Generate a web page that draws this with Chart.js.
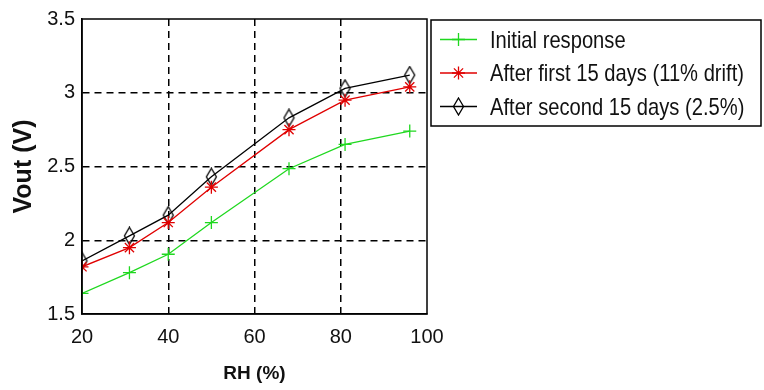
<!DOCTYPE html>
<html>
<head>
<meta charset="utf-8">
<script src="https://cdn.jsdelivr.net/npm/chart.js@4/dist/chart.umd.min.js"></script>
<style>
html,body{margin:0;padding:0;background:#fff;}
#wrap{width:764px;height:390px;position:relative;}
</style>
</head>
<body>
<div id="wrap"><canvas id="c" width="764" height="390"></canvas></div>
<script>
// ---- data ----
const rh = [20, 31, 40, 50, 68, 81, 96];
const initialResponse = [1.64, 1.78, 1.905, 2.12, 2.485, 2.65, 2.74];
const afterFirst15 = [1.82, 1.95, 2.12, 2.36, 2.75, 2.95, 3.04];
const afterSecond15 = [1.86, 2.03, 2.17, 2.43, 2.83, 3.03, 3.12];
const seriesNames = ['Initial response', 'After first 15 days (11% drift)', 'After second 15 days (2.5%)'];
const xTicks = [20, 40, 60, 80, 100];
const yTicks = [1.5, 2, 2.5, 3, 3.5];

const FONT = '"Liberation Sans", Arial, Helvetica, sans-serif';

// tall narrow diamond marker
function makeDiamond(){
  const cv = document.createElement('canvas');
  cv.width = 13; cv.height = 19;
  const g = cv.getContext('2d');
  g.strokeStyle = '#000'; g.lineWidth = 1.3;
  g.beginPath();
  g.moveTo(6.5, 1); g.lineTo(11.5, 9.5); g.lineTo(6.5, 18); g.lineTo(1.5, 9.5); g.closePath();
  g.stroke();
  return cv;
}
const diamond = makeDiamond();

const toXY = (ys) => ys.map((v, i) => ({x: rh[i], y: v}));

const frame = {
  id: 'frame',
  afterDatasetsDraw(chart){
    const {ctx, chartArea: a} = chart;
    ctx.save();
    ctx.strokeStyle = '#000'; ctx.lineWidth = 1.5;
    ctx.strokeRect(a.left, a.top, a.right - a.left, a.bottom - a.top);
    ctx.restore();
  }
};

const customLegend = {
  id: 'customLegend',
  afterDraw(chart){
    const {ctx} = chart;
    const bx = 431, by = 20, bw = 330, bh = 106;
    ctx.save();
    ctx.fillStyle = '#fff';
    ctx.fillRect(bx, by, bw, bh);
    ctx.strokeStyle = '#000'; ctx.lineWidth = 1.5;
    ctx.strokeRect(bx, by, bw, bh);
    const rows = [39.5, 73, 106.5];
    chart.data.datasets.forEach((ds, i) => {
      const y = rows[i];
      ctx.strokeStyle = ds.borderColor; ctx.lineWidth = 1.3;
      ctx.beginPath(); ctx.moveTo(440, y); ctx.lineTo(477, y); ctx.stroke();
      if (ds.pointStyle instanceof HTMLCanvasElement) {
        ctx.drawImage(ds.pointStyle, 458.5 - ds.pointStyle.width/2, y - ds.pointStyle.height/2);
      } else {
        Chart.helpers.drawPoint(ctx, {pointStyle: ds.pointStyle, radius: ds.pointRadius, borderWidth: 1.3}, 458.5, y);
      }
      ctx.save();
      ctx.translate(490, y + 1.5);
      ctx.scale(0.84, 1);
      ctx.fillStyle = '#111';
      ctx.font = '24px ' + FONT;
      ctx.textBaseline = 'middle';
      ctx.textAlign = 'left';
      ctx.fillText(ds.label, 0, 0);
      ctx.restore();
    });
    ctx.restore();
  }
};

const dashColor = (edgeVals) => (c) => (c.tick && edgeVals.includes(c.tick.value)) ? 'rgba(0,0,0,0)' : '#000';

new Chart(document.getElementById('c'), {
  type: 'line',
  data: {
    datasets: [
      {label: seriesNames[0], data: toXY(initialResponse), borderColor: '#1fd81f', backgroundColor: '#1fd81f',
       borderWidth: 1.3, pointStyle: 'cross', pointRadius: 6.5, pointBorderWidth: 1.3, fill: false, tension: 0},
      {label: seriesNames[1], data: toXY(afterFirst15), borderColor: '#e00000', backgroundColor: '#e00000',
       borderWidth: 1.3, pointStyle: 'star', pointRadius: 6.5, pointBorderWidth: 1.3, fill: false, tension: 0},
      {label: seriesNames[2], data: toXY(afterSecond15), borderColor: '#000', backgroundColor: '#000',
       borderWidth: 1.3, pointStyle: diamond, pointRadius: 6, fill: false, tension: 0}
    ]
  },
  options: {
    responsive: false,
    devicePixelRatio: 1,
    animation: false,
    layout: {padding: {top: 17, right: 337, left: 0, bottom: 0}},
    plugins: {legend: {display: false}, tooltip: {enabled: false}},
    scales: {
      x: {
        type: 'linear', min: 20, max: 100,
        afterBuildTicks: (s) => { s.ticks = xTicks.map(v => ({value: v})); },
        afterFit: (s) => { s.height = 76; },
        ticks: {color: '#111', font: {family: FONT, size: 20}, padding: 11, callback: (v) => String(v)},
        grid: {color: dashColor([20, 100]), lineWidth: 1.5, drawTicks: false},
        border: {color: '#000', width: 1.5, dash: [7, 5]},
        title: {display: true, text: 'RH (%)', color: '#111', font: {family: FONT, size: 19, weight: 'bold'}, padding: {top: 2, bottom: 5}}
      },
      y: {
        type: 'linear', min: 1.5, max: 3.5,
        afterBuildTicks: (s) => { s.ticks = yTicks.map(v => ({value: v})); },
        afterFit: (s) => { s.width = 82; },
        ticks: {color: '#111', font: {family: FONT, size: 20}, padding: 7, callback: (v) => String(v)},
        grid: {color: dashColor([1.5, 3.5]), lineWidth: 1.5, drawTicks: false},
        border: {color: '#000', width: 1.5, dash: [7, 5]},
        title: {display: true, text: 'Vout (V)', color: '#111', font: {family: FONT, size: 25, weight: 'bold'}, padding: {top: 9, bottom: 0}}
      }
    }
  },
  plugins: [frame, customLegend]
});
</script>
</body>
</html>
